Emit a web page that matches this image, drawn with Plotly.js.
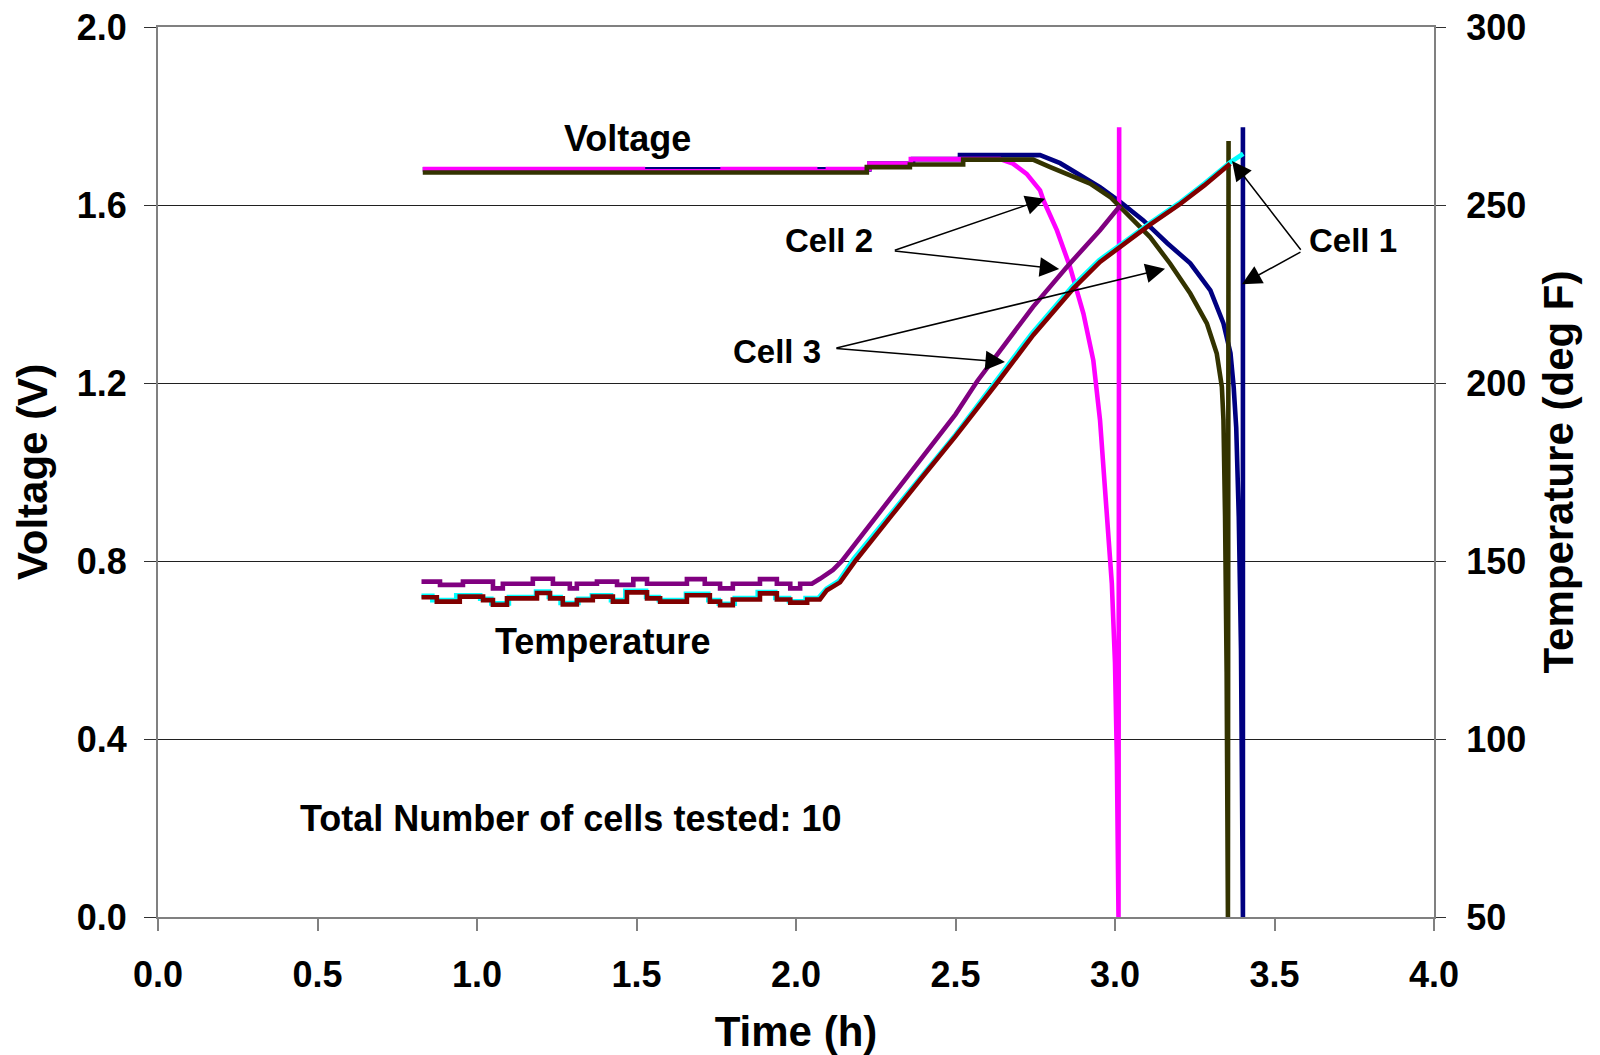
<!DOCTYPE html>
<html>
<head>
<meta charset="utf-8">
<script src="https://cdn.plot.ly/plotly-3.0.1.min.js"></script>
<style>
  html, body { margin: 0; padding: 0; background: #ffffff; }
  #chart { width: 1600px; height: 1055px; }
</style>
</head>
<body>
<div id="chart"></div>
<script>
// ---- Data ----
// Voltage (V) vs time (h)
const cell1Time = [0.830, 2.230, 2.230, 2.367, 2.367, 2.514, 2.514, 2.765, 2.828, 2.900, 2.953, 3.016, 3.088, 3.164, 3.236, 3.299, 3.340, 3.362, 3.372, 3.380, 3.388, 3.395, 3.399, 3.401, 3.401];
const cell1Volt = [1.680, 1.680, 1.693, 1.693, 1.703, 1.703, 1.712, 1.712, 1.694, 1.663, 1.640, 1.607, 1.566, 1.514, 1.469, 1.408, 1.334, 1.267, 1.191, 1.100, 0.900, 0.600, 0.300, 0.000, 1.775];

const cell2Time = [0.830, 1.520, 1.520, 1.770, 1.770, 2.060, 2.060, 2.100, 2.100, 2.230, 2.230, 2.360, 2.360, 2.640, 2.680, 2.723, 2.765, 2.776, 2.818, 2.859, 2.901, 2.932, 2.953, 2.970, 2.990, 3.000, 3.006, 3.011, 3.013];
const cell2Volt = [1.681, 1.681, 1.676, 1.676, 1.681, 1.681, 1.676, 1.676, 1.681, 1.681, 1.693, 1.693, 1.703, 1.703, 1.693, 1.670, 1.633, 1.610, 1.543, 1.461, 1.356, 1.251, 1.117, 0.960, 0.750, 0.571, 0.350, 0.000, 1.775];

const cell3Time = [0.830, 2.222, 2.222, 2.357, 2.357, 2.524, 2.524, 2.743, 2.797, 2.849, 2.922, 2.985, 3.048, 3.110, 3.173, 3.236, 3.288, 3.319, 3.335, 3.340, 3.345, 3.350, 3.354, 3.356];
const cell3Volt = [1.673, 1.673, 1.685, 1.685, 1.691, 1.691, 1.702, 1.702, 1.685, 1.670, 1.648, 1.618, 1.573, 1.528, 1.468, 1.401, 1.334, 1.266, 1.191, 1.117, 0.900, 0.550, 0.000, 1.744];

// Temperature (deg F) vs time (h)
const cell1TempTime = [0.826, 0.860, 0.860, 0.935, 0.935, 1.010, 1.010, 1.045, 1.045, 1.100, 1.100, 1.185, 1.185, 1.225, 1.225, 1.262, 1.262, 1.318, 1.318, 1.360, 1.360, 1.420, 1.420, 1.465, 1.465, 1.530, 1.530, 1.570, 1.570, 1.655, 1.655, 1.725, 1.725, 1.758, 1.758, 1.808, 1.808, 1.880, 1.880, 1.935, 1.935, 1.978, 1.978, 2.030, 2.030, 2.070, 2.095, 2.135, 2.180, 2.245, 2.300, 2.400, 2.500, 2.625, 2.740, 2.865, 2.950, 3.050, 3.110, 3.200, 3.280, 3.361, 3.402];
const cell1Temp = [140.2, 140.2, 139.0, 139.0, 140.4, 140.4, 139.4, 139.4, 138.1, 138.1, 139.9, 139.9, 141.4, 141.4, 139.9, 139.9, 138.2, 138.2, 139.4, 139.4, 140.4, 140.4, 139.0, 139.0, 141.6, 141.6, 139.9, 139.9, 139.0, 139.0, 140.8, 140.8, 139.0, 139.0, 138.0, 138.0, 139.6, 139.6, 141.3, 141.3, 139.6, 139.6, 138.7, 138.7, 139.6, 139.6, 142.2, 144.5, 150.5, 157.5, 163.3, 174.5, 185.5, 200.5, 214.0, 227.0, 234.5, 241.0, 245.0, 250.5, 256.0, 262.0, 264.4];

const cell2TempTime = [0.826, 0.884, 0.884, 0.956, 0.956, 1.050, 1.050, 1.081, 1.081, 1.175, 1.175, 1.238, 1.238, 1.291, 1.291, 1.313, 1.313, 1.376, 1.376, 1.439, 1.439, 1.490, 1.490, 1.533, 1.533, 1.658, 1.658, 1.714, 1.714, 1.762, 1.762, 1.802, 1.802, 1.887, 1.887, 1.940, 1.940, 1.982, 1.982, 2.013, 2.013, 2.050, 2.075, 2.116, 2.144, 2.200, 2.250, 2.300, 2.350, 2.400, 2.450, 2.500, 2.568, 2.640, 2.743, 2.849, 2.953, 3.016];
const cell2Temp = [144.2, 144.2, 143.3, 143.3, 144.2, 144.2, 142.3, 142.3, 143.6, 143.6, 145.0, 145.0, 143.6, 143.6, 142.3, 142.3, 143.6, 143.6, 144.2, 144.2, 143.3, 143.3, 144.9, 144.9, 143.6, 143.6, 144.9, 144.9, 143.6, 143.6, 142.3, 142.3, 143.6, 143.6, 144.9, 144.9, 143.6, 143.6, 142.3, 142.3, 143.6, 143.6, 145.0, 147.5, 150.0, 156.5, 162.3, 168.0, 173.8, 179.5, 185.4, 191.2, 200.5, 209.2, 221.4, 232.6, 242.9, 249.8];

const cell3TempTime = [0.826, 0.874, 0.874, 0.946, 0.946, 1.019, 1.019, 1.050, 1.050, 1.094, 1.094, 1.188, 1.188, 1.229, 1.229, 1.269, 1.269, 1.313, 1.313, 1.363, 1.363, 1.426, 1.426, 1.470, 1.470, 1.533, 1.533, 1.574, 1.574, 1.658, 1.658, 1.730, 1.730, 1.762, 1.762, 1.802, 1.802, 1.887, 1.887, 1.940, 1.940, 1.982, 1.982, 2.035, 2.035, 2.075, 2.097, 2.138, 2.186, 2.250, 2.300, 2.400, 2.500, 2.630, 2.744, 2.869, 2.953, 3.050, 3.110, 3.200, 3.280, 3.361];
const cell3Temp = [139.8, 139.8, 138.6, 138.6, 140.0, 140.0, 139.0, 139.0, 137.7, 137.7, 139.5, 139.5, 141.0, 141.0, 139.5, 139.5, 137.8, 137.8, 139.0, 139.0, 140.0, 140.0, 138.6, 138.6, 141.2, 141.2, 139.5, 139.5, 138.6, 138.6, 140.4, 140.4, 138.6, 138.6, 137.6, 137.6, 139.2, 139.2, 140.9, 140.9, 139.2, 139.2, 138.3, 138.3, 139.2, 139.2, 141.8, 144.0, 150.0, 157.0, 162.8, 174.0, 185.0, 200.0, 213.5, 226.5, 234.0, 240.5, 244.5, 250.0, 255.5, 261.6];

// Axis ranges and ticks
const timeRange = [0, 4];
const voltRange = [0, 2];
const tempRange = [50, 300];

// Text labels
const labelTexts = ['Voltage', 'Temperature', 'Total Number of cells tested: 10', 'Cell 2', 'Cell 3', 'Cell 1'];
const labelX = [1.472, 1.392, 1.293, 2.104, 1.939, 3.745];
const labelY = [1.750, 0.619, 0.222, 1.521, 1.270, 1.521];
// Arrows: tail (ax, ay) -> tip (x, y), in time / voltage units
const arrowTailX = [2.305, 2.305, 2.122, 2.122, 3.586, 3.586];
const arrowTailY = [1.497, 1.497, 1.278, 1.278, 1.496, 1.496];
const arrowTipX  = [2.781, 2.825, 3.157, 2.655, 3.367, 3.398];
const arrowTipY  = [1.614, 1.456, 1.457, 1.247, 1.699, 1.422];

// ---- Chart ----
const FONT = 'Liberation Sans, Arial, Helvetica, sans-serif';
const LW = 4.6;

function vTrace(x, y, color, name) {
  return { x: x, y: y, type: 'scatter', mode: 'lines', name: name, yaxis: 'y',
           line: { color: color, width: LW }, hoverinfo: 'skip', showlegend: false };
}
function tTrace(x, y, color, name) {
  return { x: x, y: y, type: 'scatter', mode: 'lines', name: name, yaxis: 'y2',
           line: { color: color, width: LW }, hoverinfo: 'skip', showlegend: false };
}

const data = [
  vTrace(cell1Time, cell1Volt, '#000080', 'Cell 1 voltage'),
  vTrace(cell2Time, cell2Volt, '#FF00FF', 'Cell 2 voltage'),
  vTrace(cell3Time, cell3Volt, '#333300', 'Cell 3 voltage'),
  tTrace(cell1TempTime, cell1Temp, '#00FFFF', 'Cell 1 temperature'),
  tTrace(cell3TempTime, cell3Temp, '#800000', 'Cell 3 temperature'),
  tTrace(cell2TempTime, cell2Temp, '#800080', 'Cell 2 temperature')
];

const annotations = [];
for (let i = 0; i < labelTexts.length; i++) {
  const isCell = labelTexts[i].indexOf('Cell') === 0;
  annotations.push({
    text: labelTexts[i], x: labelX[i], y: labelY[i], xref: 'x', yref: 'y',
    showarrow: false, xanchor: 'center', yanchor: 'middle',
    font: { family: FONT, size: isCell ? 33 : 36, color: '#000000', weight: 'bold' }
  });
}
for (let i = 0; i < arrowTipX.length; i++) {
  annotations.push({
    text: '', x: arrowTipX[i], y: arrowTipY[i], xref: 'x', yref: 'y',
    ax: arrowTailX[i], ay: arrowTailY[i], axref: 'x', ayref: 'y',
    showarrow: true, arrowhead: 2, arrowsize: 2.6, arrowwidth: 1.5,
    arrowcolor: '#000000', standoff: 0, startstandoff: 0
  });
}

const tickFont = { family: FONT, size: 36, color: '#000000', weight: 'bold' };
const titleFont = { family: FONT, size: 42, color: '#000000', weight: 'bold' };

const layout = {
  width: 1600, height: 1055,
  paper_bgcolor: '#ffffff', plot_bgcolor: '#ffffff',
  margin: { l: 158, r: 166, t: 27, b: 138, pad: 0 },
  showlegend: false,
  xaxis: {
    range: timeRange, dtick: 0.5, tick0: 0, tickformat: '.1f',
    showgrid: false, zeroline: false,
    showline: true, linecolor: '#808080', linewidth: 2, mirror: true,
    ticks: 'outside', ticklen: 12, tickwidth: 2, tickcolor: '#808080',
    tickfont: tickFont, ticklabelstandoff: 13,
    title: { text: 'Time (h)', font: titleFont, standoff: 22 }
  },
  yaxis: {
    range: voltRange, dtick: 0.4, tick0: 0, tickformat: '.1f',
    showgrid: true, gridcolor: '#202020', gridwidth: 1, zeroline: false,
    showline: true, linecolor: '#808080', linewidth: 2,
    ticks: 'outside', ticklen: 12, tickwidth: 1, tickcolor: '#303030',
    tickfont: tickFont, ticklabelstandoff: 10,
    title: { text: 'Voltage (V)', font: titleFont, standoff: 16 }
  },
  yaxis2: {
    range: tempRange, dtick: 50, tick0: 50, overlaying: 'y', side: 'right',
    showgrid: false, zeroline: false,
    showline: true, linecolor: '#808080', linewidth: 2,
    ticks: 'outside', ticklen: 10, tickwidth: 1, tickcolor: '#303030',
    tickfont: tickFont, ticklabelstandoff: 13,
    title: { text: 'Temperature (deg F)', font: titleFont, standoff: 18 }
  },
  annotations: annotations
};

Plotly.newPlot('chart', data, layout, { staticPlot: true, displayModeBar: false });
</script>
</body>
</html>
